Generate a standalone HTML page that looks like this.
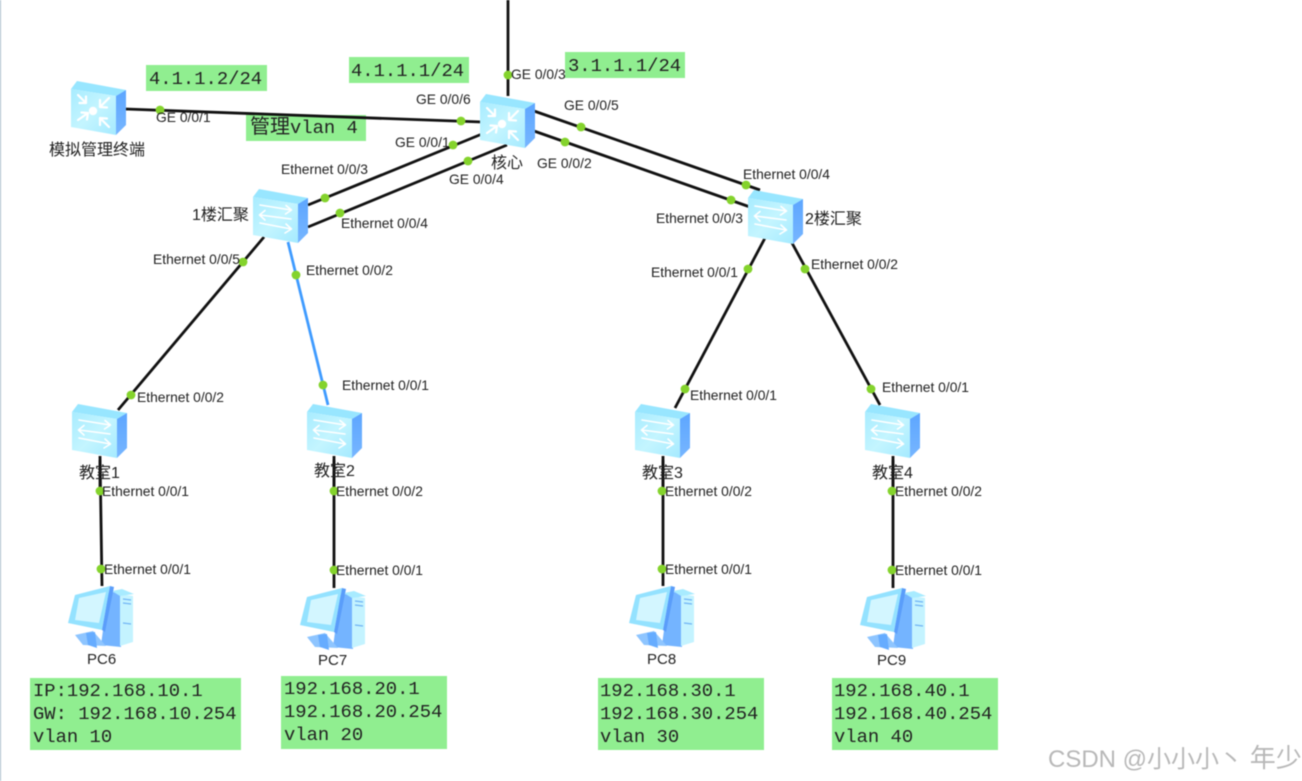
<!DOCTYPE html>
<html lang="zh">
<head>
<meta charset="utf-8">
<title>Network topology</title>
<style>
html,body{margin:0;padding:0;background:#fff;width:1302px;height:781px;overflow:hidden}
svg{display:block;position:absolute;left:0;top:0;filter:blur(.4px)}
.l{font:13.85px "Liberation Sans",sans-serif;fill:#222}
.n{font:16px "Liberation Sans","Noto Sans CJK SC",sans-serif;fill:#222}
.pc{font:15px "Liberation Sans",sans-serif;fill:#222}
.m{font:18.85px "Liberation Mono",monospace;fill:#222}
.c{font:20px "Noto Sans CJK SC",sans-serif;fill:#222}
.w{font:24px "Liberation Sans","Noto Sans CJK SC",sans-serif;fill:#b8b8b8}
.link{stroke:#111;stroke-width:2.8;fill:none}
.b{fill:#90ee90}
.d{fill:#84d32c}
</style>
</head>
<body>
<svg width="1302" height="781" viewBox="0 0 1302 781" xmlns="http://www.w3.org/2000/svg">
<defs>
<linearGradient id="f" x1="0" y1="0" x2="1" y2="1">
<stop offset="0" stop-color="#a8ecff"/><stop offset=".5" stop-color="#c4f5ff"/><stop offset="1" stop-color="#a5eaff"/>
</linearGradient>
<linearGradient id="s" x1="0" y1="0" x2="0" y2="1">
<stop offset="0" stop-color="#5da6ff"/><stop offset="1" stop-color="#77b6ff"/>
</linearGradient>
<g id="body">
<polygon points="0,8 6,0 55,9 45,15" fill="#98e6ff"/>
<polygon points="0,8 45,15 45,54 0,46" fill="url(#f)"/>
<polygon points="45,15 55,9 55,44 45,54" fill="url(#s)"/>
</g>
<g id="sw">
<use href="#body"/>
<g fill="none" stroke="#fff" stroke-width="1.6" stroke-linejoin="round" stroke-linecap="round">
<path d="M7,16 L38,21 M33,16.5 L38.5,21 L32.5,25"/>
<path d="M38,30 L7,26 M12,21.5 L6.5,26 L12,31"/>
<path d="M7,34 L38,40 M33,35 L38.5,40 L32,44"/>
</g>
</g>
<g id="rt">
<use href="#body"/>
<g fill="none" stroke="#fff" stroke-width="2.2" stroke-linejoin="round" stroke-linecap="round">
<path d="M7,14 L15,22 M15,15.5 L15,22 L8.5,22"/>
<path d="M38,17 L29,26 M29,19 L29,26 L36,26.5"/>
<path d="M7,39 L17,32 M10.5,31.5 L17,32 L16,38.5"/>
<path d="M38,46 L29,37 M29,44 L29,37 L36,37.5"/>
</g>
<circle cx="22" cy="30" r="4.2" fill="#fff"/>
</g>
<g id="pcicon">
<polygon points="40,8 53,6 53,62 33,60" fill="#74b4ff"/>
<polygon points="52,9 65,11 65,57 52,61" fill="#c4f3ff"/>
<polygon points="44,6 54,4 66,9 52,11" fill="#a8ebff"/>
<path d="M55,14 L63,15 M55,18 L63,19 M55,38 L63,39" stroke="#6fb3f5" stroke-width="1.2"/>
<polygon points="7,50 25,46 38,61 15,60" fill="#8ec5ff"/>
<polygon points="18,48 27,47 29,63 20,60" fill="#66acff"/>
<polygon points="7,10 42,1 34,45 0,38" fill="#94e2ff"/>
<polygon points="11,13 38,7 31,38 7,35" fill="#d3f6ff"/>
<polygon points="42,1 46,2 37,47 34,45" fill="#5a9dfa"/>
</g>
</defs>

<rect width="1302" height="781" fill="#fff"/>
<rect x="0" y="0" width="1" height="781" fill="#a8bccb"/>

<rect class="b" x="146" y="65" width="121" height="26"/>
<rect class="b" x="349" y="57" width="120" height="26"/>
<rect class="b" x="565" y="52" width="120" height="26"/>
<rect class="b" x="246" y="115" width="120" height="26"/>
<rect class="b" x="30" y="678" width="211" height="72"/>
<rect class="b" x="281" y="676" width="166" height="73"/>
<rect class="b" x="598" y="678" width="166" height="72"/>
<rect class="b" x="832" y="678" width="166" height="72"/>

<text class="m" x="149" y="84">4.1.1.2/24</text>
<text class="m" x="351" y="76">4.1.1.1/24</text>
<text class="m" x="568" y="71">3.1.1.1/24</text>
<text x="250" y="133"><tspan class="c">管理</tspan><tspan class="m">vlan 4</tspan></text>

<text class="m" x="33" y="696">IP:192.168.10.1</text>
<text class="m" x="33" y="719">GW: 192.168.10.254</text>
<text class="m" x="33" y="742">vlan 10</text>
<text class="m" x="284" y="694">192.168.20.1</text>
<text class="m" x="284" y="717">192.168.20.254</text>
<text class="m" x="284" y="740">vlan 20</text>
<text class="m" x="600" y="696">192.168.30.1</text>
<text class="m" x="600" y="719">192.168.30.254</text>
<text class="m" x="600" y="742">vlan 30</text>
<text class="m" x="834" y="696">192.168.40.1</text>
<text class="m" x="834" y="719">192.168.40.254</text>
<text class="m" x="834" y="742">vlan 40</text>

<g class="link">
<path d="M508,0 V96"/>
<path d="M125,109 L482,122"/>
<path d="M308,205 L482,134"/>
<path d="M308,227 L507,145"/>
<path d="M534,111 L760,190"/>
<path d="M534,131 L750,207"/>
<path d="M264,237 L118,410"/>
<path d="M765,238 L675,408"/>
<path d="M792,243 L880,405"/>
<path d="M100,456 L102,586"/>
<path d="M334,456 V588"/>
<path d="M663,456 V586"/>
<path d="M893,456 V588"/>
</g>
<path d="M288,242 L328,405" stroke="#3f9bff" stroke-width="2.8" fill="none"/>

<use href="#rt" x="71" y="81"/>
<use href="#rt" x="480" y="94"/>
<use href="#sw" x="253" y="189"/>
<use href="#sw" x="748" y="190"/>
<use href="#sw" x="72" y="404"/>
<use href="#sw" x="307" y="404"/>
<use href="#sw" x="635" y="404"/>
<use href="#sw" x="865" y="404"/>
<use href="#pcicon" x="68" y="585"/>
<use href="#pcicon" x="300" y="587"/>
<use href="#pcicon" x="629" y="585"/>
<use href="#pcicon" x="860" y="587"/>

<g class="link">
<path d="M100,460 V490"/><path d="M334,460 V490"/><path d="M663,460 V490"/><path d="M893,460 V490"/>
</g>

<g class="d">
<circle cx="508" cy="75" r="4.4"/>
<circle cx="160" cy="110" r="4.4"/>
<circle cx="461" cy="121" r="4.4"/>
<circle cx="325" cy="198" r="4.4"/>
<circle cx="340" cy="213" r="4.4"/>
<circle cx="453" cy="145" r="4.4"/>
<circle cx="468" cy="161" r="4.4"/>
<circle cx="581" cy="127" r="4.4"/>
<circle cx="565" cy="142" r="4.4"/>
<circle cx="746" cy="185" r="4.4"/>
<circle cx="731" cy="200" r="4.4"/>
<circle cx="243" cy="262" r="4.4"/>
<circle cx="131" cy="395" r="4.4"/>
<circle cx="296" cy="275" r="4.4"/>
<circle cx="323" cy="385" r="4.4"/>
<circle cx="748" cy="269" r="4.4"/>
<circle cx="685" cy="389" r="4.4"/>
<circle cx="805" cy="269" r="4.4"/>
<circle cx="871" cy="389" r="4.4"/>
<circle cx="100" cy="491" r="4.4"/>
<circle cx="101" cy="569" r="4.4"/>
<circle cx="334" cy="491" r="4.4"/>
<circle cx="334" cy="570" r="4.4"/>
<circle cx="662" cy="491" r="4.4"/>
<circle cx="662" cy="569" r="4.4"/>
<circle cx="892" cy="491" r="4.4"/>
<circle cx="892" cy="570" r="4.4"/>
</g>

<text class="l" x="156" y="122">GE 0/0/1</text>
<text class="l" x="416" y="104">GE 0/0/6</text>
<text class="l" x="395" y="147">GE 0/0/1</text>
<text class="l" x="511" y="79">GE 0/0/3</text>
<text class="l" x="564" y="110">GE 0/0/5</text>
<text class="l" x="537" y="168">GE 0/0/2</text>
<text class="l" x="449" y="184">GE 0/0/4</text>
<text class="l" x="281" y="174">Ethernet 0/0/3</text>
<text class="l" x="341" y="228">Ethernet 0/0/4</text>
<text class="l" x="743" y="179">Ethernet 0/0/4</text>
<text class="l" x="656" y="223">Ethernet 0/0/3</text>
<text class="l" x="153" y="264">Ethernet 0/0/5</text>
<text class="l" x="306" y="275">Ethernet 0/0/2</text>
<text class="l" x="651" y="277">Ethernet 0/0/1</text>
<text class="l" x="811" y="269">Ethernet 0/0/2</text>
<text class="l" x="342" y="390">Ethernet 0/0/1</text>
<text class="l" x="882" y="392">Ethernet 0/0/1</text>
<text class="l" x="690" y="400">Ethernet 0/0/1</text>
<text class="l" x="137" y="402">Ethernet 0/0/2</text>
<text class="l" x="102" y="496">Ethernet 0/0/1</text>
<text class="l" x="336" y="496">Ethernet 0/0/2</text>
<text class="l" x="665" y="496">Ethernet 0/0/2</text>
<text class="l" x="895" y="496">Ethernet 0/0/2</text>
<text class="l" x="104" y="574">Ethernet 0/0/1</text>
<text class="l" x="336" y="575">Ethernet 0/0/1</text>
<text class="l" x="665" y="574">Ethernet 0/0/1</text>
<text class="l" x="895" y="575">Ethernet 0/0/1</text>

<text class="n" x="49" y="155">模拟管理终端</text>
<text class="n" x="192" y="220">1楼汇聚</text>
<text class="n" x="491" y="168">核心</text>
<text class="n" x="805" y="224">2楼汇聚</text>
<text class="n" x="79" y="478">教室1</text>
<text class="n" x="314" y="476">教室2</text>
<text class="n" x="642" y="478">教室3</text>
<text class="n" x="872" y="478">教室4</text>
<text class="pc" x="87" y="664">PC6</text>
<text class="pc" x="318" y="665">PC7</text>
<text class="pc" x="647" y="664">PC8</text>
<text class="pc" x="877" y="665">PC9</text>

<text class="w" x="1048" y="767">CSDN @小小小丶 <tspan style="font-size:26px">年少</tspan></text>
</svg>
</body>
</html>
